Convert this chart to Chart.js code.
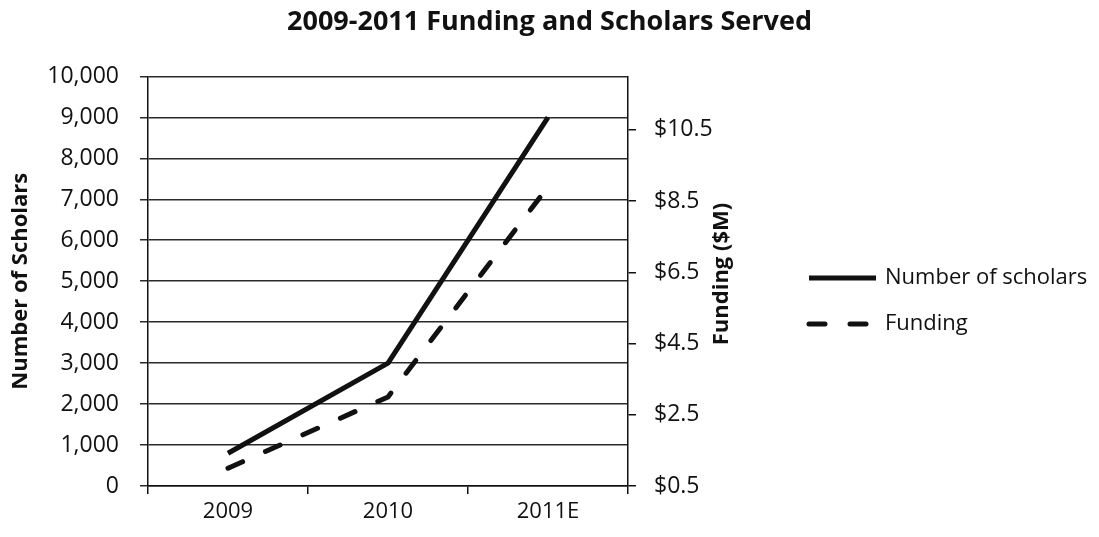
<!DOCTYPE html>
<html>
<head>
<meta charset="utf-8">
<title>2009-2011 Funding and Scholars Served</title>
<script src="https://cdn.jsdelivr.net/npm/chart.js@4/dist/chart.umd.min.js"></script>
<style>
  html, body { margin: 0; padding: 0; background: #fff; }
  #wrap { width: 1099px; height: 537px; position: relative; }
</style>
</head>
<body>
<div id="wrap"><canvas id="chart"></canvas></div>
<script>
// Years on the x axis
const years = ['2009', '2010', '2011E'];
// Scholars served each year
const scholars = [800, 3000, 9000];
// Funding in $M each year
const funding = [1.0, 3.0, 8.9];
// Tick values for the funding axis
const fundingTicks = [0.5, 2.5, 4.5, 6.5, 8.5, 10.5];

const FONT = '"Open Sans", "Noto Sans", sans-serif';
const INK = '#111';

// Legend on the right and the rotated funding axis title
const sideLabels = {
    id: 'sideLabels',
    afterDraw(chart) {
        const ctx = chart.ctx;
        const y1 = chart.scales.y1;
        ctx.save();

        // legend rows
        const rows = [278, 324];
        chart.data.datasets.forEach((ds, i) => {
            const y = rows[i];
            ctx.beginPath();
            ctx.strokeStyle = ds.borderColor;
            ctx.lineWidth = ds.borderWidth;
            ctx.lineCap = ds.borderCapStyle || 'butt';
            ctx.setLineDash(ds.borderDash || []);
            ctx.moveTo(809, y);
            ctx.lineTo(876, y);
            ctx.stroke();
            ctx.setLineDash([]);
            ctx.fillStyle = INK;
            ctx.font = '22px ' + FONT;
            ctx.textAlign = 'left';
            ctx.textBaseline = 'middle';
            ctx.fillText(ds.label, 885, y);
        });

        // funding axis title, reading bottom to top
        ctx.translate(y1.left + 94, 274);
        ctx.rotate(-Math.PI / 2);
        ctx.font = 'bold 22px ' + FONT;
        ctx.fillStyle = INK;
        ctx.textAlign = 'center';
        ctx.textBaseline = 'middle';
        ctx.fillText('Funding ($M)', 0, 0);
        ctx.restore();
    }
};

const ctx = document.getElementById('chart');
new Chart(ctx, {
    type: 'line',
    data: {
        labels: years,
        datasets: [{
            label: 'Number of scholars',
            data: scholars,
            yAxisID: 'y',
            borderColor: INK,
            borderWidth: 5,
            borderJoinStyle: 'round',
            borderCapStyle: 'butt',
            pointRadius: 0,
            tension: 0
        }, {
            label: 'Funding',
            data: funding,
            yAxisID: 'y1',
            borderColor: INK,
            borderWidth: 5,
            borderDash: [16, 25],
            borderCapStyle: 'round',
            borderJoinStyle: 'round',
            pointRadius: 0,
            tension: 0
        }]
    },
    options: {
        responsive: true,
        maintainAspectRatio: false,
        animation: false,
        layout: { padding: 0 },
        plugins: {
            legend: { display: false },
            tooltip: { enabled: false },
            title: {
                display: true,
                text: '2009-2011 Funding and Scholars Served',
                color: INK,
                font: { family: FONT, size: 27, weight: 'bold' },
                padding: { top: 6, bottom: 38 }
            }
        },
        scales: {
            x: {
                offset: true,
                afterFit(scale) { scale.height = 51; },
                grid: {
                    offset: true,
                    drawOnChartArea: false,
                    color: INK,
                    lineWidth: 1.5,
                    tickLength: 8
                },
                border: { color: INK, width: 1.5 },
                ticks: {
                    color: INK,
                    padding: 5,
                    font: { family: FONT, size: 22 }
                }
            },
            y: {
                position: 'left',
                min: 0,
                max: 10000,
                afterFit(scale) { scale.width = 148; },
                grid: {
                    color: '#2a2a2a',
                    lineWidth: 1.5,
                    tickLength: 8
                },
                border: { color: INK, width: 1.5 },
                ticks: {
                    stepSize: 1000,
                    color: INK,
                    padding: 21,
                    font: { family: FONT, size: 23 },
                    callback: v => v.toLocaleString('en-US')
                },
                title: {
                    display: true,
                    text: 'Number of Scholars',
                    color: INK,
                    font: { family: FONT, size: 22, weight: 'bold' },
                    padding: { top: 8, bottom: 0 }
                }
            },
            y1: {
                position: 'right',
                min: 0.5,
                max: 12,
                afterFit(scale) { scale.width = 1099 - 628; },
                afterBuildTicks(scale) {
                    scale.ticks = fundingTicks.map(v => ({ value: v }));
                },
                grid: {
                    drawOnChartArea: false,
                    color: INK,
                    lineWidth: 1.5,
                    tickLength: 8
                },
                border: { color: INK, width: 1.5 },
                ticks: {
                    color: INK,
                    padding: 18,
                    font: { family: FONT, size: 23 },
                    callback: v => '$' + v.toFixed(1)
                }
            }
        }
    },
    plugins: [sideLabels]
});
</script>
</body>
</html>
